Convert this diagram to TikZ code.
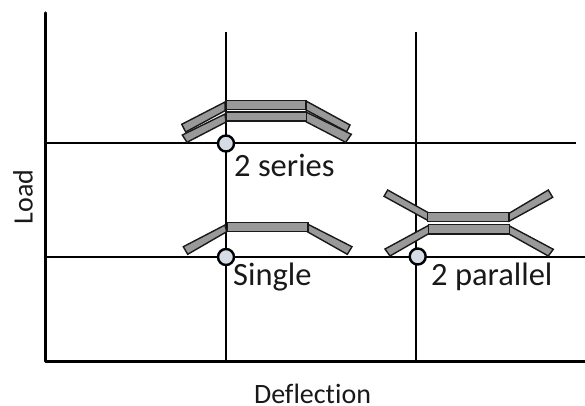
\documentclass[tikz,border=0pt]{standalone}
\usepackage{fontspec}
\setmainfont[Ligatures=NoCommon]{Carlito}
\definecolor{pivotfill}{HTML}{D6DCE5}
\tikzset{
  x=1pt,y=-1pt,
  gridline/.style={draw=black,line width=2pt},
  axisline/.style={draw=black,line width=3.4pt,line cap=round,line join=round},
  bar/.style={draw=black!90,fill=black!40,line width=1.4pt,line join=miter},
  pivot/.style={circle,draw=black,fill=pivotfill,line width=2.4pt,minimum size=16pt,inner sep=0pt},
  caption/.style={font=\fontsize{32.5}{36}\selectfont,text=black!90,inner sep=0pt,anchor=base west},
  axistitle/.style={font=\fontsize{28}{32}\selectfont,text=black!90,inner sep=0pt,anchor=base}
}
\begin{document}
\begin{tikzpicture}
\useasboundingbox (0,0) rectangle (585,405);
% grid lines
\coordinate (gl1) at (45,143);
\coordinate (gr1) at (576,143);
\coordinate (gl2) at (45,257);
\coordinate (gr2) at (585,257);
\coordinate (vt1) at (226,32);
\coordinate (vb1) at (226,361.5);
\coordinate (vt2) at (415.5,32);
\coordinate (vb2) at (415.5,361.5);
\draw[gridline] (gl1) -- (gr1);
\draw[gridline] (gl2) -- (gr2);
\draw[gridline] (vt1) -- (vb1);
\draw[gridline] (vt2) -- (vb2);
% axes
\coordinate (ytop) at (45.5,13);
\coordinate (origin) at (45.5,361.5);
\coordinate (xend) at (585,361.5);
\draw[axisline] (ytop) -- (origin) -- (xend);
% two springs in series
\draw[bar] (225,102) -- (181.7,124.3) -- (185.7,132) -- (225,110.7) -- cycle;
\draw[bar] (225,114) -- (182.3,135) -- (187,142.3) -- (226,122) -- cycle;
\draw[bar] (306,101) -- (350,125) -- (346.7,131.7) -- (306,110) -- cycle;
\draw[bar] (306,112) -- (351.3,134.3) -- (345.7,142.3) -- (306,121.7) -- cycle;
\draw[bar] (226,100.7) rectangle (306,109.5);
\draw[bar] (226,112) rectangle (306.5,121);
% single spring
\draw[bar] (225,225) -- (183.3,246.7) -- (187.7,254.3) -- (226.7,231.7) -- cycle;
\draw[bar] (308,224.3) -- (352,246.7) -- (347.3,254.3) -- (307.3,231.7) -- cycle;
\draw[bar] (227.3,222.7) rectangle (308,231.7);
% two springs in parallel
\draw[bar] (387.7,190) -- (384,196.3) -- (428.3,220.7) -- (428.3,212.7) -- cycle;
\draw[bar] (385,249) -- (390,256) -- (429.3,233.3) -- (428.7,225.3) -- cycle;
\draw[bar] (509,213.3) -- (548.3,190) -- (552.7,197.3) -- (509,221.3) -- cycle;
\draw[bar] (509,225.7) -- (553.3,249.3) -- (548.3,256) -- (509,234) -- cycle;
\draw[bar] (427.7,212.7) rectangle (509,221.3);
\draw[bar] (428.7,224.3) rectangle (509.5,234);
% pivots
\node[pivot] (p1) at (226,143.5) {};
\node[pivot] (p2) at (226,257) {};
\node[pivot] (p3) at (417.7,256.5) {};
% labels
\node[caption] (series) at (234,176) {2 series};
\node[caption] (single) at (233,285) {Single};
\node[caption] (parallel) at (431,285) {2 parallel};
\node[axistitle] (deflection) at (312.5,403.5) {Deflection};
\node[axistitle,rotate=90] (load) at (32.5,197) {Load};
\end{tikzpicture}
\end{document}
